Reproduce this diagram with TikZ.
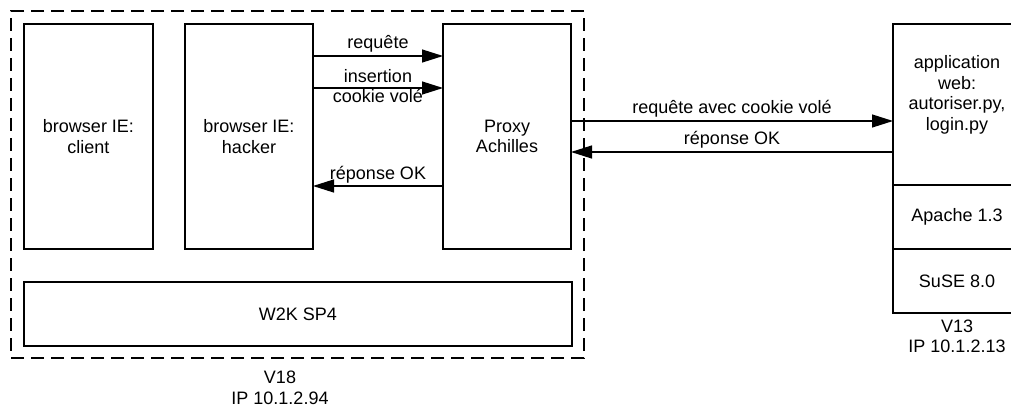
\documentclass[tikz,border=0pt]{standalone}
\usepackage{fontspec}
\setmainfont{Liberation Sans}
\usetikzlibrary{arrows.meta}
\begin{document}
\begin{tikzpicture}[x=1pt,y=-1pt,line width=1.3pt,
  every node/.style={font=\fontsize{18}{20.5}\selectfont,inner sep=0pt,outer sep=0pt},
  box/.style={draw,rectangle,align=center,inner sep=0pt},
  vmbox/.style={draw,rectangle,dash pattern=on 13pt off 7pt},
  arr/.style={-{Triangle[length=21pt,width=13pt]}},
  lbl/.style={anchor=base}]
\useasboundingbox (0,0) rectangle (1011,406);
% dashed machine V18
\node[vmbox,minimum width=573,minimum height=347] (v18) at (297.5,184.5) {};
\node[box,minimum width=129,minimum height=225] (client) at (88.5,136.5) {browser IE:\\client};
\node[box,minimum width=128,minimum height=225] (hacker) at (249,136.5) {browser IE:\\hacker};
\node[box,minimum width=128,minimum height=225] (proxy) at (507,136.5) {Proxy\\Achilles};
\node[box,minimum width=548,minimum height=64] (w2k) at (298,314) {W2K SP4};
\node[lbl] (v18a) at (280,383) {V18};
\node[lbl] (v18b) at (280,404) {IP 10.1.2.94};
% server V13
\node[box,minimum width=128,minimum height=161] (app) at (957,104.5) {};
\node (apptxt) at (957,95) [align=center] {application\\web:\\autoriser.py,\\login.py};
\node[box,minimum width=128,minimum height=64] (apache) at (957,217) {Apache 1.3};
\node[box,minimum width=128,minimum height=64] (suse) at (957,281) {SuSE 8.0};
\node[lbl] (v13a) at (957,332) {V13};
\node[lbl] (v13b) at (957,352) {IP 10.1.2.13};
% arrows
\draw[arr] (hacker.east |- 0,56) -- (proxy.west |- 0,56)
  node[lbl,midway,yshift=7pt] (l1) {requête};
\draw[arr] (hacker.east |- 0,88) -- (proxy.west |- 0,88)
  node[lbl,midway,yshift=5pt] (l2a) {insertion}
  node[lbl,midway,yshift=-15pt] (l2b) {cookie volé};
\draw[arr] (proxy.west |- 0,186) -- (hacker.east |- 0,186)
  node[lbl,midway,yshift=7pt] (l3) {réponse OK};
\draw[arr] (proxy.east |- 0,121) -- (app.west |- 0,121)
  node[lbl,midway,yshift=7pt] (l4) {requête avec cookie volé};
\draw[arr] (app.west |- 0,152) -- (proxy.east |- 0,152)
  node[lbl,midway,yshift=7pt] (l5) {réponse OK};
\end{tikzpicture}
\end{document}
